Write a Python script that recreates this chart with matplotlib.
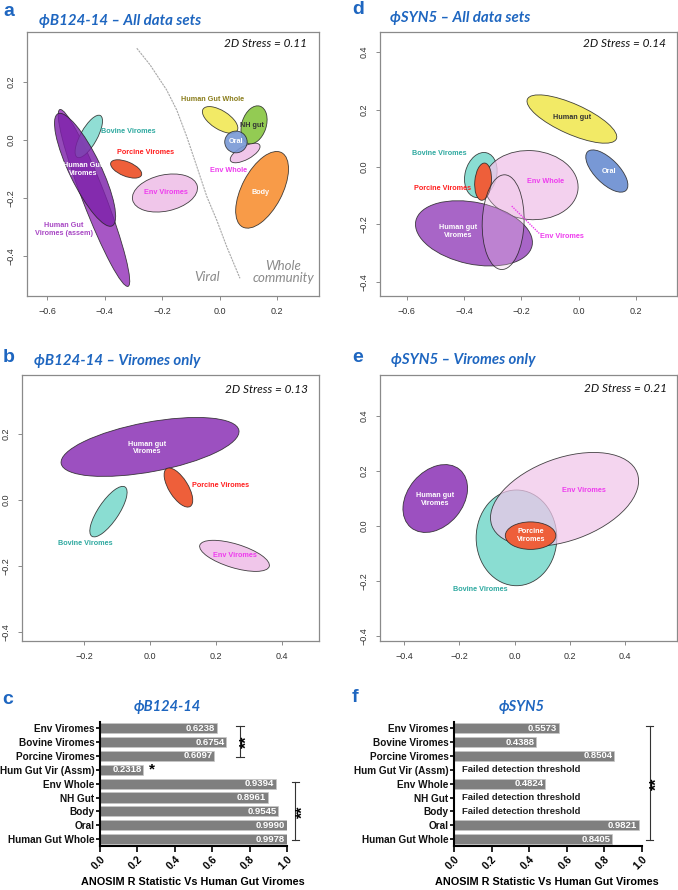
import matplotlib
matplotlib.use('Agg')
import matplotlib.pyplot as plt
from matplotlib.patches import Ellipse
import numpy as np

W, H = 678, 890
fig = plt.figure(figsize=(W / 100, H / 100), dpi=100)

BLUE = '#1E66C0'
TEAL_T = '#2EA9A0'
RED_T = '#FF1E1E'
MAG_T = '#EE3CEE'
OLIVE_T = '#8A7D1C'
PURP_T = '#A847C4'
C_HGV = '#7D22AA'
C_HGVA = '#A24EC2'
C_HGV2 = '#9C50C0'
C_TEAL = '#8ADDD2'
C_RED = '#EE5F3A'
C_PINK = '#F0C6EA'
C_YEL = '#F2EA66'
C_GRN = '#8DC94A'
C_ORAL = '#7898D5'
C_BODY = '#F89B48'

TITLE_FONT = ['Lato', 'DejaVu Sans']
ARIAL = ['Liberation Sans', 'DejaVu Sans']

# ---------------- data ----------------
# Panel a: phiB124-14 all data sets (NMDS ellipses)
a_names = ['HGV assem', 'Bovine', 'HGV', 'Porcine', 'Env Viromes', 'Human Gut Whole', 'Env Whole', 'NH gut', 'Oral', 'Body']
a_cx = [-0.437, -0.455, -0.468, -0.325, -0.190, 0.002, 0.089, 0.120, 0.057, 0.148]
a_cy = [-0.200, 0.012, -0.103, -0.100, -0.183, 0.069, -0.045, 0.052, -0.007, -0.172]
a_w = [0.654, 0.165, 0.430, 0.115, 0.230, 0.140, 0.115, 0.135, 0.078, 0.290]
a_h = [0.080, 0.058, 0.110, 0.050, 0.125, 0.064, 0.046, 0.085, 0.075, 0.140]
a_ang = [-68.7, 60.6, -64, -22, 12, -32, 28, 72, 0, 62]
a_col = [C_HGVA, C_TEAL, C_HGV, C_RED, C_PINK, C_YEL, C_PINK, C_GRN, C_ORAL, C_BODY]
a_alpha = [0.95, 0.95, 0.82, 1, 1, 1, 1, 0.95, 0.9, 1]
a_div_x = [-0.288, -0.242, -0.184, -0.149, -0.114, -0.079, -0.044, -0.010, 0.025, 0.071]
a_div_y = [0.316, 0.259, 0.172, 0.103, 0.011, -0.092, -0.196, -0.276, -0.368, -0.477]

# Panel d: phiSYN5 all data sets
d_names = ['Human gut', 'Oral', 'Bovine', 'Env Whole', 'Porcine', 'HGV', 'Env Viromes']
d_cx = [-0.024, 0.098, -0.342, -0.167, -0.334, -0.366, -0.264]
d_cy = [0.167, -0.014, -0.028, -0.063, -0.051, -0.231, -0.192]
d_w = [0.340, 0.190, 0.160, 0.330, 0.058, 0.415, 0.146]
d_h = [0.105, 0.085, 0.110, 0.240, 0.130, 0.215, 0.330]
d_ang = [-24, -45, 75, -5, -5, -12, -2]
d_col = [C_YEL, C_ORAL, C_TEAL, C_PINK, C_RED, C_HGV2, C_PINK]
d_alpha = [1, 1, 1, 0.8, 1, 0.88, 0.3]

# Panel b: phiB124-14 viromes only
b_names = ['HGV', 'Porcine', 'Bovine', 'Env Viromes']
b_cx = [0.0, 0.086, -0.126, 0.256]
b_cy = [0.161, 0.038, -0.035, -0.169]
b_w = [0.548, 0.135, 0.180, 0.220]
b_h = [0.150, 0.058, 0.062, 0.072]
b_ang = [10.6, -58, 56, -17]
b_col = [C_HGV2, C_RED, C_TEAL, C_PINK]

# Panel e: phiSYN5 viromes only
e_names = ['HGV', 'Bovine', 'Env Viromes', 'Porcine']
e_cx = [-0.287, 0.007, 0.181, 0.058]
e_cy = [0.100, -0.043, 0.097, -0.035]
e_w = [0.275, 0.292, 0.560, 0.183]
e_h = [0.200, 0.348, 0.300, 0.100]
e_ang = [50, 0, 20, 0]
e_col = [C_HGV2, C_TEAL, C_PINK, C_RED]
e_alpha = [1, 1, 0.72, 1]

# Panels c, f: ANOSIM R statistic vs Human Gut Viromes
bar_cats = ['Env Viromes', 'Bovine Viromes', 'Porcine Viromes', 'Hum Gut Vir (Assm)',
            'Env Whole', 'NH Gut', 'Body', 'Oral', 'Human Gut Whole']
c_vals = [0.6238, 0.6754, 0.6097, 0.2318, 0.9394, 0.8961, 0.9545, 0.9990, 0.9978]
f_vals = [0.5573, 0.4388, 0.8504, np.nan, 0.4824, np.nan, np.nan, 0.9821, 0.8405]
bar_ticks = [0.0, 0.2, 0.4, 0.6, 0.8, 1.0]


# ---------------- helpers ----------------
def rect(l, t, r, b):
    return [l / W, 1 - b / H, (r - l) / W, (b - t) / H]


def fig_text(x, y, s, **kw):
    fig.text(x / W, 1 - y / H, s, **kw)


def nmds_axes(r, xlim, ylim, xticks, yticks):
    ax = fig.add_axes(rect(*r))
    ax.set_xlim(*xlim)
    ax.set_ylim(*ylim)
    ax.set_xticks(xticks)
    ax.set_yticks(yticks)
    ax.set_xticklabels([f"{t:.1f}".replace('-', '\u2212') for t in xticks], fontsize=6.5, family=ARIAL, color='#333333')
    ax.set_yticklabels([f"{t:.1f}".replace('-', '\u2212') for t in yticks], fontsize=6.5, family=ARIAL, color='#333333',
                       rotation=90, va='center')
    ax.tick_params(length=3, width=0.6, color='#777777', pad=5)
    for s in ax.spines.values():
        s.set_color('#8A8A8A')
        s.set_linewidth(0.9)
    return ax


def draw_ellipses(ax, cx, cy, w, h, ang, col, alpha=None):
    for i in range(len(cx)):
        al = 1 if alpha is None else alpha[i]
        e = Ellipse((cx[i], cy[i]), w[i], h[i], angle=ang[i], facecolor=col[i],
                    edgecolor='none', alpha=al, zorder=2 + i * 0.01)
        ax.add_patch(e)
        e2 = Ellipse((cx[i], cy[i]), w[i], h[i], angle=ang[i], facecolor='none',
                     edgecolor='#222222', lw=0.6, alpha=0.85, zorder=2.005 + i * 0.01)
        ax.add_patch(e2)


def lab(ax, x, y, s, c, size=5.2):
    ax.text(x, y, s, color=c, fontsize=size, fontweight='bold', family=ARIAL,
            ha='center', va='center', zorder=10, linespacing=1.15)


def stress(ax, x, y, s):
    ax.text(x, y, s, transform=ax.transAxes, ha='right', va='center', fontsize=8.5,
            style='italic', family=['Lato', 'DejaVu Sans'], color='#111111')


def letter(x, y, s):
    fig_text(x, y, s, fontsize=14, fontweight='bold', color=BLUE, family=ARIAL, ha='left', va='center')


def title(x, y, s, ha='left', size=10.8):
    fig_text(x, y, s, fontsize=size, fontweight='bold', style='italic', color=BLUE,
             family=TITLE_FONT, ha=ha, va='center')


# ---------------- panel a ----------------
ax = nmds_axes((27, 32, 319, 296), (-0.67, 0.346), (-0.538, 0.372),
               [-0.6, -0.4, -0.2, 0.0, 0.2], [-0.4, -0.2, 0.0, 0.2])
draw_ellipses(ax, a_cx, a_cy, a_w, a_h, a_ang, a_col, a_alpha)
ax.plot(a_div_x, a_div_y, color='#A8A8A8', lw=0.8, ls=(0, (2, 0.8)), zorder=1)
lab(ax, -0.318, 0.028, 'Bovine Viromes', TEAL_T)
lab(ax, -0.259, -0.045, 'Porcine Viromes', RED_T)
lab(ax, -0.476, -0.103, 'Human Gut\nViromes', 'white')
lab(ax, -0.541, -0.31, 'Human Gut\nViromes (assem)', PURP_T)
lab(ax, -0.187, -0.18, 'Env Viromes', MAG_T)
lab(ax, -0.026, 0.141, 'Human Gut Whole', OLIVE_T)
lab(ax, 0.112, 0.048, 'NH gut', '#333333')
lab(ax, 0.057, -0.006, 'Oral', 'white')
lab(ax, 0.03, -0.107, 'Env Whole', MAG_T)
lab(ax, 0.144, -0.18, 'Body', 'white')
ax.text(-0.043, -0.472, 'Viral', color='#8A8A8A', fontsize=9.5, style='italic',
        family=['Lato', 'DejaVu Sans'], ha='center', va='center')
ax.text(0.221, -0.455, 'Whole\ncommunity', color='#8A8A8A', fontsize=9.5, style='italic',
        family=['Lato', 'DejaVu Sans'], ha='center', va='center', linespacing=1.0)
stress(ax, 0.959, 0.958, '2D Stress = 0.11')

# ---------------- panel d ----------------
ax = nmds_axes((380, 32, 677, 296), (-0.694, 0.343), (-0.449, 0.47),
               [-0.6, -0.4, -0.2, 0.0, 0.2], [-0.4, -0.2, 0.0, 0.2, 0.4])
draw_ellipses(ax, d_cx, d_cy, d_w, d_h, d_ang, d_col, d_alpha)
ax.plot([-0.234, -0.138], [-0.136, -0.231], color=MAG_T, lw=1.0, ls=(0, (1, 0.8)), zorder=9)
lab(ax, -0.024, 0.172, 'Human gut', '#333333')
lab(ax, 0.106, -0.016, 'Oral', 'white')
lab(ax, -0.117, -0.051, 'Env Whole', MAG_T)
lab(ax, -0.486, 0.048, 'Bovine Viromes', TEAL_T)
lab(ax, -0.474, -0.074, 'Porcine Viromes', RED_T)
lab(ax, -0.421, -0.225, 'Human gut\nViromes', 'white')
lab(ax, -0.059, -0.243, 'Env Viromes', MAG_T)
stress(ax, 0.962, 0.958, '2D Stress = 0.14')

# ---------------- panel b ----------------
ax = nmds_axes((22, 375, 319, 641), (-0.388, 0.512), (-0.427, 0.379),
               [-0.2, 0.0, 0.2, 0.4], [-0.4, -0.2, 0.0, 0.2])
draw_ellipses(ax, b_cx, b_cy, b_w, b_h, b_ang, b_col)
lab(ax, -0.008, 0.158, 'Human gut\nViromes', 'white')
lab(ax, 0.214, 0.043, 'Porcine Viromes', RED_T)
lab(ax, -0.195, -0.131, 'Bovine Viromes', TEAL_T)
lab(ax, 0.256, -0.169, 'Env Viromes', MAG_T)
stress(ax, 0.963, 0.947, '2D Stress = 0.13')

# ---------------- panel e ----------------
ax = nmds_axes((380, 375, 677, 641), (-0.487, 0.588), (-0.418, 0.549),
               [-0.4, -0.2, 0.0, 0.2, 0.4], [-0.4, -0.2, 0.0, 0.2, 0.4])
draw_ellipses(ax, e_cx, e_cy, e_w, e_h, e_ang, e_col, e_alpha)
lab(ax, -0.287, 0.097, 'Human gut\nViromes', 'white')
lab(ax, 0.252, 0.128, 'Env Viromes', MAG_T)
lab(ax, 0.059, -0.035, 'Porcine\nViromes', 'white')
lab(ax, -0.124, -0.229, 'Bovine Viromes', TEAL_T)
stress(ax, 0.965, 0.951, '2D Stress = 0.21')


# ---------------- bar panels ----------------
def bar_panel(l, r, vals, label_x):
    ax = fig.add_axes(rect(l, 722, r, 846))
    n = len(bar_cats)
    ypos = np.arange(n)[::-1]
    for y, v in zip(ypos, vals):
        if np.isnan(v):
            ax.text(0.04, y, 'Failed detection threshold', fontsize=6.8, fontweight='bold',
                    family=ARIAL, color='#222222', ha='left', va='center')
            continue
        ax.barh(y, v, height=0.74, color='#7F7F7F', edgecolor='#C8C8C8', lw=0.5)
        ax.text(v - 0.008, y, f"{v:.4f}", fontsize=6.8, fontweight='bold', family=ARIAL,
                color='white', ha='right', va='center')
    ax.set_xlim(0, 1.0)
    ax.set_ylim(-0.5, 8.45)
    ax.set_yticks(ypos)
    ax.set_yticklabels(bar_cats, fontsize=7.2, fontweight='bold', family=ARIAL, color='#111111')
    ax.set_xticks(bar_ticks)
    ax.set_xticklabels([f"{t:.1f}" for t in bar_ticks], fontsize=7.5, fontweight='bold',
                       family=ARIAL, rotation=45, ha='right', va='top', rotation_mode='anchor')
    ax.tick_params(axis='y', length=3, width=1.2, pad=1)
    ax.tick_params(axis='x', length=4, width=1.2, pad=2)
    for s in ['top', 'right']:
        ax.spines[s].set_visible(False)
    for s in ['left', 'bottom']:
        ax.spines[s].set_linewidth(1.5)
    fig_text(label_x, 882, 'ANOSIM R Statistic Vs Human Gut Viromes', fontsize=7.8,
             fontweight='bold', family=ARIAL, ha='center', va='center')
    return ax


def bracket(ax, x, y0, y1, sx, sy):
    ax.plot([x, x], [y0, y1], color='#333333', lw=0.8, clip_on=False)
    for yy in (y0, y1):
        ax.plot([x - 0.02, x + 0.02], [yy, yy], color='#333333', lw=0.8, clip_on=False)
    ax.text(sx, sy, '**', rotation=90, fontsize=11.5, fontweight='bold', family=ARIAL,
            ha='center', va='center', clip_on=False)


ax = bar_panel(100, 287, c_vals, 193)
bracket(ax, 0.749, 8.15, 5.9, 0.79, 7.0)
bracket(ax, 1.045, 4.1, -0.1, 1.086, 2.0)
ax.text(0.276, 5, '*', fontsize=11, fontweight='bold', family=ARIAL, ha='center', va='center')

ax = bar_panel(454, 642, f_vals, 547)
bracket(ax, 1.04, 8.15, -0.1, 1.08, 4.0)

# ---------------- letters & titles ----------------
letter(3, 11, 'a')
letter(352, 10, 'd')
letter(3, 357, 'b')
letter(352, 358, 'e')
letter(2, 700, 'c')
letter(352, 698, 'f')
title(39, 21, '\u03d5B124-14 \u2013 All data sets')
title(390, 18, '\u03d5SYN5 \u2013 All data sets')
title(34, 361, '\u03d5B124-14 \u2013 Viromes only')
title(391, 360, '\u03d5SYN5 \u2013 Viromes only')
title(167, 707, '\u03d5B124-14', ha='center', size=10.5)
title(522, 707, '\u03d5SYN5', ha='center', size=10.5)

fig.savefig('out.png', dpi=100, facecolor='white')
